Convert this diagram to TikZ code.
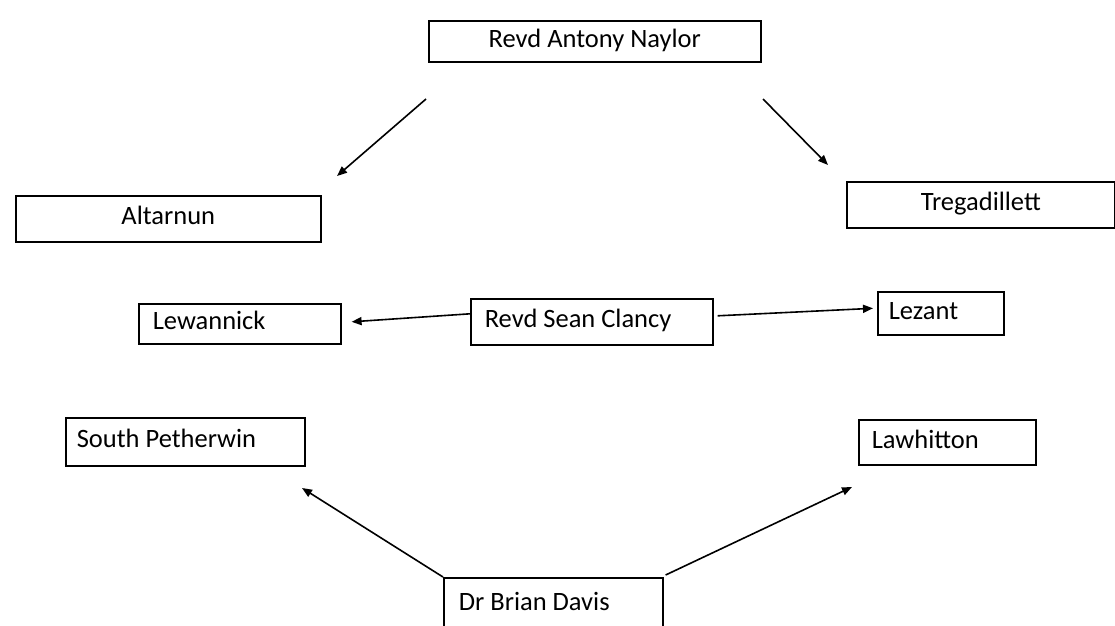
\documentclass[tikz,border=0pt]{standalone}
\usepackage{fontspec}
\setmainfont{Carlito}
\usetikzlibrary{arrows.meta}

\tikzstyle{box} = [rectangle, draw=black, line width=1.6pt, anchor=north west, align=flush left, inner ysep=0pt, text height=18pt, text depth=6pt, font=\fontsize{26.5}{30}\selectfont]
\tikzstyle{arr} = [-{Triangle[length=10pt,width=8pt]}, line width=1.6pt]

\begin{document}
\begin{tikzpicture}[x=1pt,y=-1pt]
	\useasboundingbox (0,0) rectangle (1115,625);
	\node (naylor)    [box, align=center, minimum width=332pt, minimum height=41pt] at (428,20)  {Revd Antony Naylor};
	\node (altarnun)  [box, align=center, minimum width=305pt, minimum height=46pt] at (15,195)  {Altarnun};
	\node (tregad)    [box, align=center, minimum width=268pt, minimum height=46pt] at (846,181) {Tregadillett};
	\node (lewannick) [box, inner xsep=14pt, text width=174pt, minimum height=40pt] at (138,303) {Lewannick};
	\node (clancy)    [box, inner xsep=14pt, text width=214pt, minimum height=46pt] at (470,298) {Revd Sean Clancy};
	\node (lezant)    [box, inner xsep=11pt, text width=104pt, minimum height=43pt] at (877,291) {Lezant};
	\node (southp)    [box, inner xsep=11pt, text width=217pt, minimum height=48pt] at (65,417)  {South Petherwin};
	\node (lawhitton) [box, inner xsep=13pt, text width=151pt, minimum height=45pt] at (858,419) {Lawhitton};
	\node (davis)     [box, inner xsep=15pt, text width=189pt, minimum height=53pt] at (443,577) {Dr Brian Davis};

	\coordinate (n-left)  at (426,99);
	\coordinate (n-right) at (763,99);
	\coordinate (a-top)   at (337,176);
	\coordinate (t-top)   at (828,165);
	\coordinate (s-low)   at (302,488);
	\coordinate (l-low)   at (852,487);

	\draw[arr] (n-left)  -- (a-top);
	\draw[arr] (n-right) -- (t-top);
	\draw[arr] ([yshift=8pt]clancy.west) -- ([xshift=10pt,yshift=2pt]lewannick.east);
	\draw[arr] ([xshift=4pt,yshift=6pt]clancy.east) -- ([xshift=-4pt,yshift=5pt]lezant.west);
	\draw[arr] (davis.north west) -- (s-low);
	\draw[arr] ([xshift=2pt,yshift=2pt]davis.north east) -- (l-low);
\end{tikzpicture}
\end{document}
